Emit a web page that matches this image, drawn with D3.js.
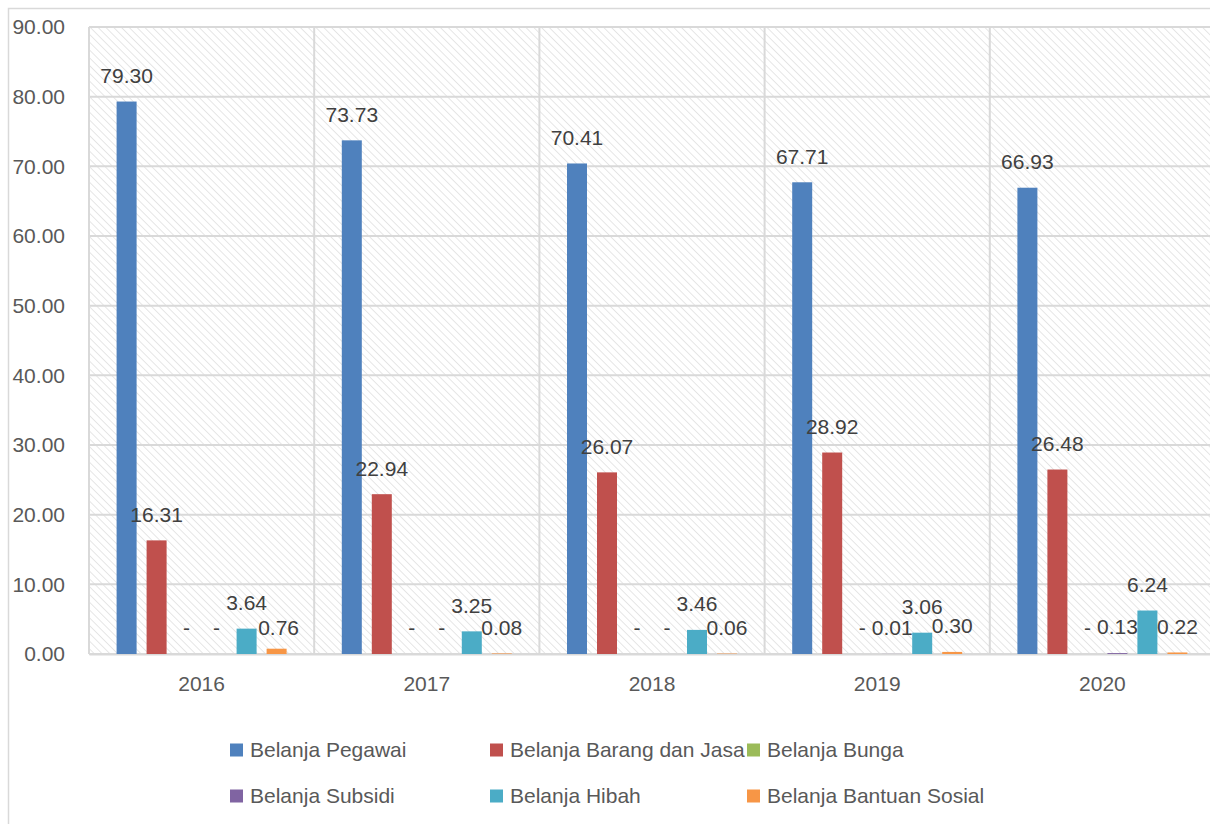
<!DOCTYPE html>
<html>
<head>
<meta charset="utf-8">
<script src="https://cdn.jsdelivr.net/npm/d3@7"></script>
<style>
  html, body { margin: 0; padding: 0; background: #fff; }
  svg { display: block; font-family: "Liberation Sans", Arial, sans-serif; }
</style>
</head>
<body>
<svg id="chart" width="1210" height="824"></svg>
<script>
const categories = ["2016", "2017", "2018", "2019", "2020"];
const seriesNames = ["Belanja Pegawai", "Belanja Barang dan Jasa", "Belanja Bunga", "Belanja Subsidi", "Belanja Hibah", "Belanja Bantuan Sosial"];
const belanjaPegawai = [79.30, 73.73, 70.41, 67.71, 66.93];
const belanjaBarangJasa = [16.31, 22.94, 26.07, 28.92, 26.48];
const belanjaBunga = [0, 0, 0, 0, 0];
const belanjaSubsidi = [0, 0, 0, 0.01, 0.13];
const belanjaHibah = [3.64, 3.25, 3.46, 3.06, 6.24];
const belanjaBantuanSosial = [0.76, 0.08, 0.06, 0.30, 0.22];
const yTicks = [0, 10, 20, 30, 40, 50, 60, 70, 80, 90];

const seriesValues = [belanjaPegawai, belanjaBarangJasa, belanjaBunga, belanjaSubsidi, belanjaHibah, belanjaBantuanSosial];
const colors = ["#4f81bd", "#c0504d", "#9bbb59", "#8064a2", "#4bacc6", "#f79646"];

// manual label nudge (one label sits slightly lower in the original)
const labelNudge = {
  "5|0": [2, 5]
};

const svg = d3.select("#chart");
const W = 1210, H = 824;
const plot = { left: 89, right: 1215, top: 27, bottom: 654 };

// hatch pattern (downward diagonal)
const defs = svg.append("defs");
const pat = defs.append("pattern")
  .attr("id", "hatch").attr("patternUnits", "userSpaceOnUse")
  .attr("width", 5.5).attr("height", 5.5)
  .attr("patternTransform", "rotate(-45)");
pat.append("rect").attr("width", 5.5).attr("height", 5.5).attr("fill", "#ffffff");
pat.append("line").attr("x1", 0).attr("y1", 0).attr("x2", 0).attr("y2", 5.5)
  .attr("stroke", "#dedede").attr("stroke-width", 1.5);

// outer chart border
svg.append("rect").attr("x", 8.5).attr("y", 8.5).attr("width", W).attr("height", H)
  .attr("fill", "#fff").attr("stroke", "#d9d9d9").attr("stroke-width", 1.5);

const x0 = d3.scaleBand().domain(categories).range([plot.left, plot.right]).paddingInner(0).paddingOuter(0);
const groupW = 170;
const x1 = d3.scaleBand().domain(d3.range(seriesNames.length))
  .range([(x0.bandwidth() - groupW) / 2, (x0.bandwidth() + groupW) / 2])
  .paddingInner(1 / 3).paddingOuter(0);
const y = d3.scaleLinear().domain([0, 90]).range([plot.bottom, plot.top]);

// plot background
svg.append("rect").attr("x", plot.left).attr("y", plot.top)
  .attr("width", plot.right - plot.left).attr("height", plot.bottom - plot.top)
  .attr("fill", "url(#hatch)");

// horizontal gridlines
svg.append("g").selectAll("line").data(yTicks).join("line")
  .attr("x1", plot.left).attr("x2", plot.right)
  .attr("y1", d => y(d)).attr("y2", d => y(d))
  .attr("stroke", "#d9d9d9").attr("stroke-width", 2);

// vertical gridlines at category boundaries
const bounds = categories.map(c => x0(c)).concat([plot.right]);
svg.append("g").selectAll("line").data(bounds).join("line")
  .attr("x1", d => d).attr("x2", d => d)
  .attr("y1", plot.top).attr("y2", plot.bottom)
  .attr("stroke", "#d9d9d9").attr("stroke-width", 2);

// y axis
const yAxis = svg.append("g").attr("transform", `translate(${plot.left},0)`)
  .call(d3.axisLeft(y).tickValues(yTicks).tickFormat(d => d.toFixed(2)).tickSize(0).tickPadding(24));
yAxis.select(".domain").remove();
yAxis.selectAll("text").attr("fill", "#595959").style("font-size", "21px")
  .style("font-family", "'Liberation Sans', Arial, sans-serif");

// x axis
const xAxis = svg.append("g").attr("transform", `translate(0,${plot.bottom})`)
  .call(d3.axisBottom(x0).tickSize(0).tickPadding(22));
xAxis.select(".domain").attr("stroke", "#d9d9d9").attr("stroke-width", 2);
xAxis.selectAll("text").attr("fill", "#595959").style("font-size", "21px")
  .style("font-family", "'Liberation Sans', Arial, sans-serif");

// bars
const flat = [];
seriesValues.forEach((vals, si) => vals.forEach((v, ci) => flat.push({ si, ci, v })));
svg.append("g").selectAll("rect").data(flat).join("rect")
  .attr("x", d => x0(categories[d.ci]) + x1(d.si))
  .attr("width", x1.bandwidth())
  .attr("y", d => y(d.v))
  .attr("height", d => y(0) - y(d.v))
  .attr("fill", d => colors[d.si]);

// labels
svg.append("g").selectAll("text").data(flat).join("text")
  .attr("x", d => x0(categories[d.ci]) + x1(d.si) + x1.bandwidth() / 2 + ((labelNudge[d.si + "|" + d.ci] || [0, 0])[0]))
  .attr("y", d => y(d.v) - 26 + ((labelNudge[d.si + "|" + d.ci] || [0, 0])[1]))
  .attr("dy", "0.35em")
  .attr("text-anchor", "middle")
  .attr("fill", "#404040")
  .style("font-size", "21px")
  .text(d => d.v === 0 ? "-" : d.v.toFixed(2));

// legend
const legendCols = [230, 490, 747];
const legendRows = [750, 796];
const legend = svg.append("g").selectAll("g").data(seriesNames).join("g")
  .attr("transform", (d, i) => `translate(${legendCols[i % 3]},${legendRows[Math.floor(i / 3)]})`);
legend.append("rect").attr("x", 0).attr("y", -6.5).attr("width", 13).attr("height", 13)
  .attr("fill", (d, i) => colors[i]);
legend.append("text").attr("x", 20).attr("y", 0).attr("dy", "0.35em")
  .attr("fill", "#595959").style("font-size", "21px").text(d => d);
</script>
</body>
</html>
